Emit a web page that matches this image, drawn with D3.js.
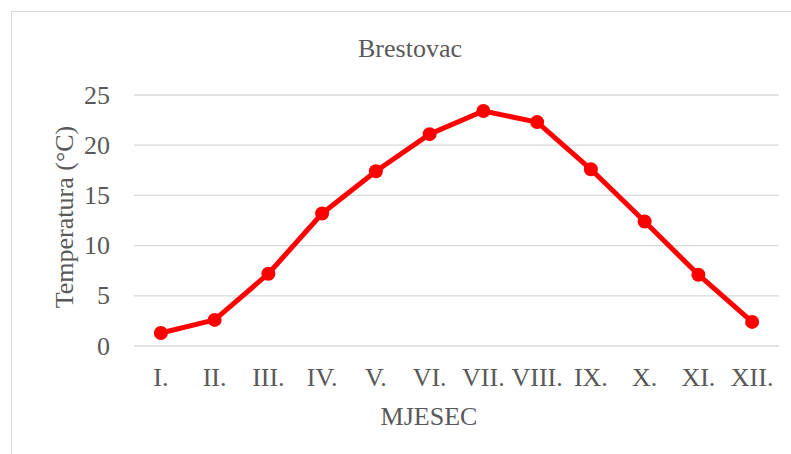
<!DOCTYPE html>
<html><head><meta charset="utf-8">
<script src="https://cdn.jsdelivr.net/npm/d3@7"></script>
<style>html,body{margin:0;padding:0;background:#fff;}svg{display:block;}</style>
</head><body>
<script>
const months = ["I.","II.","III.","IV.","V.","VI.","VII.","VIII.","IX.","X.","XI.","XII."];
const temps = [1.3, 2.6, 7.2, 13.2, 17.4, 21.1, 23.4, 22.3, 17.6, 12.4, 7.1, 2.4];
const yTicks = [0, 5, 10, 15, 20, 25];
const title = "Brestovac";
const xTitle = "MJESEC";
const yTitle = "Temperatura (°C)";

const W = 791, H = 454;
const svg = d3.select("body").append("svg").attr("width", W).attr("height", H);
const font = "'Liberation Serif','Times New Roman',serif";
const grey = "#595959";

svg.append("rect").attr("x", 11.5).attr("y", 11.5).attr("width", 800).attr("height", 460)
  .attr("fill", "#fff").attr("stroke", "#d9d9d9").attr("stroke-width", 1);

const L = 134, R = 779, T = 95, B = 346;
const x = d3.scaleBand().domain(months).range([L, R]);
const y = d3.scaleLinear().domain([0, 25]).range([B, T]);

svg.append("g").selectAll("line").data(yTicks).join("line")
  .attr("x1", L).attr("x2", R).attr("y1", d => y(d)).attr("y2", d => y(d))
  .attr("stroke", "#d9d9d9").attr("stroke-width", 1.3);

svg.append("g").selectAll("text").data(yTicks).join("text")
  .attr("x", 110).attr("y", d => y(d) + 8.5).attr("text-anchor", "end")
  .attr("font-family", font).attr("font-size", 26).attr("fill", grey).text(d => d);

svg.append("g").selectAll("text").data(months).join("text")
  .attr("x", d => x(d) + x.bandwidth() / 2).attr("y", 386).attr("text-anchor", "middle")
  .attr("font-family", font).attr("font-size", 26).attr("fill", grey).text(d => d);

svg.append("text").attr("x", 410).attr("y", 56.5).attr("text-anchor", "middle")
  .attr("font-family", font).attr("font-size", 26).attr("fill", grey).text(title);

svg.append("text").attr("x", 429).attr("y", 425).attr("text-anchor", "middle")
  .attr("font-family", font).attr("font-size", 26).attr("fill", grey).text(xTitle);

svg.append("text").attr("transform", "translate(73,217) rotate(-90)").attr("text-anchor", "middle")
  .attr("font-family", font).attr("font-size", 26).attr("fill", grey).text(yTitle);

const cx = (d, i) => x(months[i]) + x.bandwidth() / 2;
const line = d3.line().x((d, i) => cx(d, i)).y(d => y(d));
svg.append("path").datum(temps).attr("d", line).attr("fill", "none")
  .attr("stroke", "#ff0000").attr("stroke-width", 5).attr("stroke-linejoin", "round");
svg.append("g").selectAll("circle").data(temps).join("circle")
  .attr("cx", (d, i) => cx(d, i)).attr("cy", d => y(d)).attr("r", 7).attr("fill", "#ff0000");
</script>
</body></html>
